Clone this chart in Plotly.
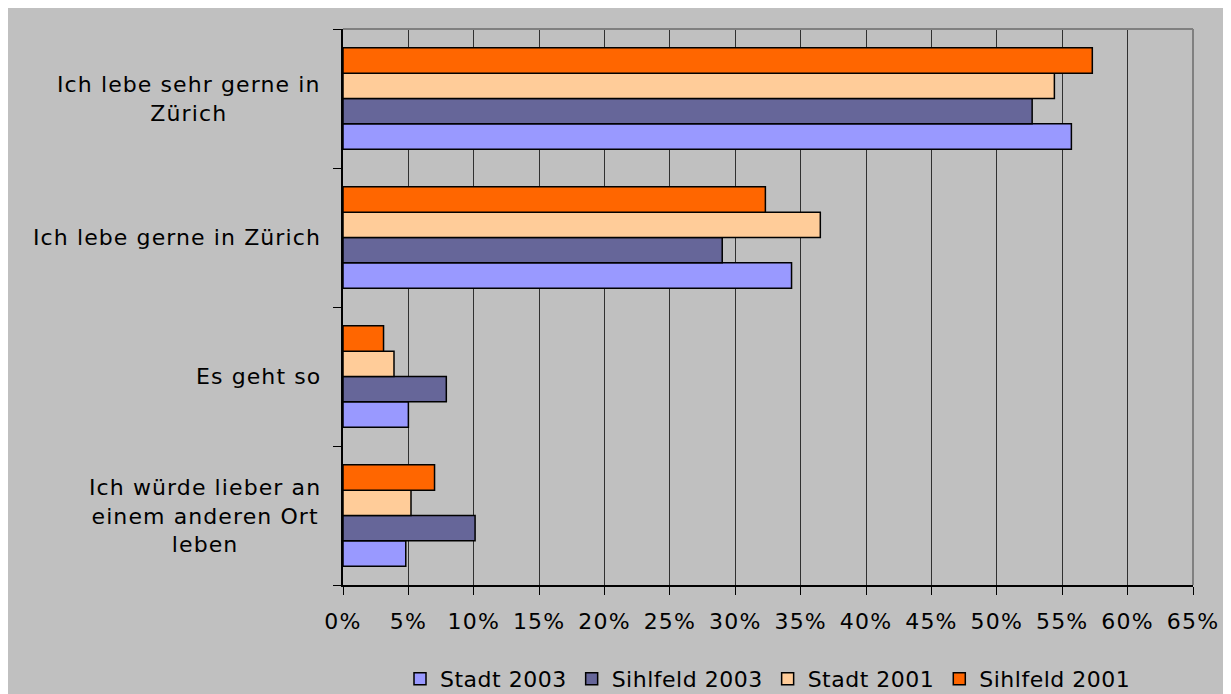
import plotly.graph_objects as go

categories = [
    "Ich lebe sehr gerne in Zürich",
    "Ich lebe gerne in Zürich",
    "Es geht so",
    "Ich würde lieber an einem anderen Ort leben",
]
category_lines = [
    ["Ich lebe sehr gerne in", "Zürich"],
    ["Ich lebe gerne in Zürich"],
    ["Es geht so"],
    ["Ich würde lieber an", "einem anderen Ort", "leben"],
]
series_names = ["Stadt 2003", "Sihlfeld 2003", "Stadt 2001", "Sihlfeld 2001"]
stadt_2003 = [55.7, 34.3, 5.0, 4.8]
sihlfeld_2003 = [52.7, 29.0, 7.9, 10.1]
stadt_2001 = [54.4, 36.5, 3.9, 5.2]
sihlfeld_2001 = [57.3, 32.3, 3.1, 7.0]
series_values = [stadt_2003, sihlfeld_2003, stadt_2001, sihlfeld_2001]
colors = ["#9999FF", "#666699", "#FFCC99", "#FF6600"]
x_ticks = list(range(0, 70, 5))
x_tick_labels = [f"{v}%" for v in x_ticks]

FONT = "DejaVu Sans"
FS = 22


def spaced(s, ls="1.5px"):
    return f'<span style="letter-spacing:{ls}">{s}</span>'


fig = go.Figure()
for name, vals, col in zip(series_names, series_values, colors):
    fig.add_trace(go.Bar(
        y=categories, x=vals, name=spaced(name, "0.5px"), orientation="h",
        marker=dict(color=col, line=dict(color="black", width=1.5)),
    ))

for cat, lines in zip(categories, category_lines):
    fig.add_annotation(
        x=0, xref="paper", xshift=-20, xanchor="right",
        y=cat, yref="y", yanchor="middle",
        text="<br>".join(spaced(l, "1.1px") for l in lines),
        showarrow=False, align="center",
        font=dict(family=FONT, size=FS, color="black"),
    )

fig.update_layout(
    width=1231, height=694,
    paper_bgcolor="#C0C0C0", plot_bgcolor="#C0C0C0",
    margin=dict(l=335, r=46, t=21, b=117),
    barmode="group", bargap=0.27, bargroupgap=0,
    font=dict(family=FONT, size=FS, color="black"),
    showlegend=True,
    legend=dict(orientation="h", x=0.5, xanchor="center",
                yref="container", y=(694 - 671) / 694, yanchor="middle",
                traceorder="normal", font=dict(family=FONT, size=FS),
                bgcolor="rgba(0,0,0,0)", tracegroupgap=0),
    xaxis=dict(range=[0, 65], tickvals=x_ticks,
               ticktext=[spaced(t, "1.2px") for t in x_tick_labels],
               showgrid=True, gridcolor="#303030", gridwidth=1,
               showline=True, linecolor="black", linewidth=1.5,
               ticks="outside", ticklen=8, tickcolor="black",
               ticklabelstandoff=8, zeroline=False, automargin=False,
               tickfont=dict(family=FONT, size=FS)),
    yaxis=dict(categoryorder="array", categoryarray=categories[::-1],
               showticklabels=False, tickson="boundaries",
               ticks="outside", ticklen=8, tickcolor="black",
               showline=True, linecolor="black", linewidth=1.5,
               showgrid=False, zeroline=False, automargin=False),
    shapes=[
        dict(type="line", xref="paper", yref="paper", x0=0, x1=1, y0=1, y1=1,
             line=dict(color="#808080", width=2), layer="above"),
        dict(type="line", xref="paper", yref="paper", x0=1, x1=1, y0=0, y1=1,
             line=dict(color="#808080", width=2), layer="above"),
    ],
)

fig.write_html("out.html")
